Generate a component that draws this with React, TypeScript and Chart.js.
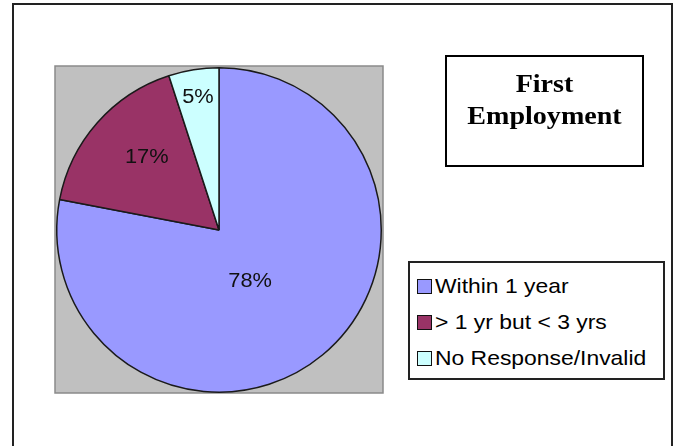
import React, { useEffect, useRef } from "react";
import { Chart, registerables } from "chart.js";

Chart.register(...registerables);

const categories = ["Within 1 year", "> 1 yr but < 3 yrs", "No Response/Invalid"];
const values = [78, 17, 5];
const colors = ["#9999FF", "#993366", "#CCFFFF"];
const labelRadius = [0.37, 0.63, 0.83];
const labelAngleFrac = [0.53, 0.56, 0.5];
const titleLines = ["First", "Employment"];

export default function App() {
  const ref = useRef<HTMLCanvasElement>(null);

  useEffect(() => {
    if (!ref.current) return;
    const bgPlugin = {
      id: "plotBg",
      beforeDraw(chart: any) {
        const { ctx, chartArea: a } = chart;
        ctx.save();
        ctx.fillStyle = "#C0C0C0";
        ctx.fillRect(a.left - 1, a.top - 1, a.width + 2, a.height + 1);
        ctx.strokeStyle = "#8a8a8a";
        ctx.lineWidth = 1.5;
        ctx.strokeRect(a.left - 1, a.top - 1, a.width + 2, a.height + 1);
        ctx.restore();
      },
    };
    const labelPlugin = {
      id: "sliceLabels",
      afterDatasetsDraw(chart: any) {
        const { ctx } = chart;
        const meta = chart.getDatasetMeta(0);
        const total = values.reduce((s, v) => s + v, 0);
        ctx.save();
        ctx.font = '20px "Liberation Sans", Arial, sans-serif';
        ctx.fillStyle = "#111";
        ctx.textAlign = "center";
        ctx.textBaseline = "middle";
        meta.data.forEach((arc: any, i: number) => {
          const p = arc.getProps(["x", "y", "startAngle", "endAngle", "outerRadius"], true);
          const ang = p.startAngle + (p.endAngle - p.startAngle) * labelAngleFrac[i];
          const r = p.outerRadius * labelRadius[i];
          ctx.save();
          ctx.translate(p.x + Math.cos(ang) * r, p.y + Math.sin(ang) * r);
          ctx.scale(1.09, 1);
          ctx.fillText(Math.round((values[i] / total) * 100) + "%", 0, 0);
          ctx.restore();
        });
        ctx.restore();
      },
    };
    const chart = new Chart(ref.current, {
      type: "pie",
      data: {
        labels: categories,
        datasets: [
          {
            data: values,
            backgroundColor: colors,
            borderColor: "#1a1a1a",
            borderWidth: 1.5,
          },
        ],
      },
      options: {
        responsive: false,
        animation: false,
        devicePixelRatio: 1,
        layout: { padding: { left: 56, top: 67, right: 300, bottom: 53 } },
        plugins: {
          legend: { display: false },
          tooltip: { enabled: false },
        },
      },
      plugins: [bgPlugin, labelPlugin],
    });
    return () => chart.destroy();
  }, []);

  return (
    <div
      style={{
        position: "fixed",
        left: 0,
        top: 0,
        width: 682,
        height: 446,
        overflow: "hidden",
        background: "#fff",
      }}
    >
      <div
        style={{
          position: "absolute",
          left: 12,
          top: 3,
          width: 661,
          height: 520,
          boxSizing: "border-box",
          border: "2px solid #222",
        }}
      />
      <canvas
        ref={ref}
        width={682}
        height={446}
        style={{ position: "absolute", left: 0, top: 0, width: 682, height: 446 }}
      />
      <div
        style={{
          position: "absolute",
          left: 445,
          top: 55,
          width: 199,
          height: 112,
          boxSizing: "border-box",
          border: "2px solid #000",
          background: "#fff",
        }}
      >
        <div
          style={{
            position: "absolute",
            left: 0,
            right: 0,
            top: 11,
            textAlign: "center",
            fontFamily: '"Liberation Serif", "Times New Roman", serif',
            fontWeight: "bold",
            fontSize: 26,
            lineHeight: "32px",
            color: "#000",
          }}
        >
          {titleLines.map((t) => (
            <div key={t} style={{ transform: "scaleX(1.08)" }}>
              {t}
            </div>
          ))}
        </div>
      </div>
      <div
        style={{
          position: "absolute",
          left: 408,
          top: 261,
          width: 257,
          height: 119,
          boxSizing: "border-box",
          border: "2px solid #222",
          background: "#fff",
        }}
      >
        {categories.map((c, i) => (
          <div
            key={c}
            style={{
              position: "absolute",
              left: 7,
              top: 5 + i * 36,
              height: 36,
              display: "flex",
              alignItems: "center",
              whiteSpace: "nowrap",
              fontFamily: '"Liberation Sans", Arial, sans-serif',
              fontSize: 21,
              color: "#000",
            }}
          >
            <span
              style={{
                display: "inline-block",
                width: 15,
                height: 15,
                boxSizing: "border-box",
                border: "1.5px solid #111",
                background: colors[i],
                marginRight: 3,
              }}
            />
            <span style={{ display: "inline-block", transform: "scaleX(1.09)", transformOrigin: "left center" }}>
              {c}
            </span>
          </div>
        ))}
      </div>
    </div>
  );
}
